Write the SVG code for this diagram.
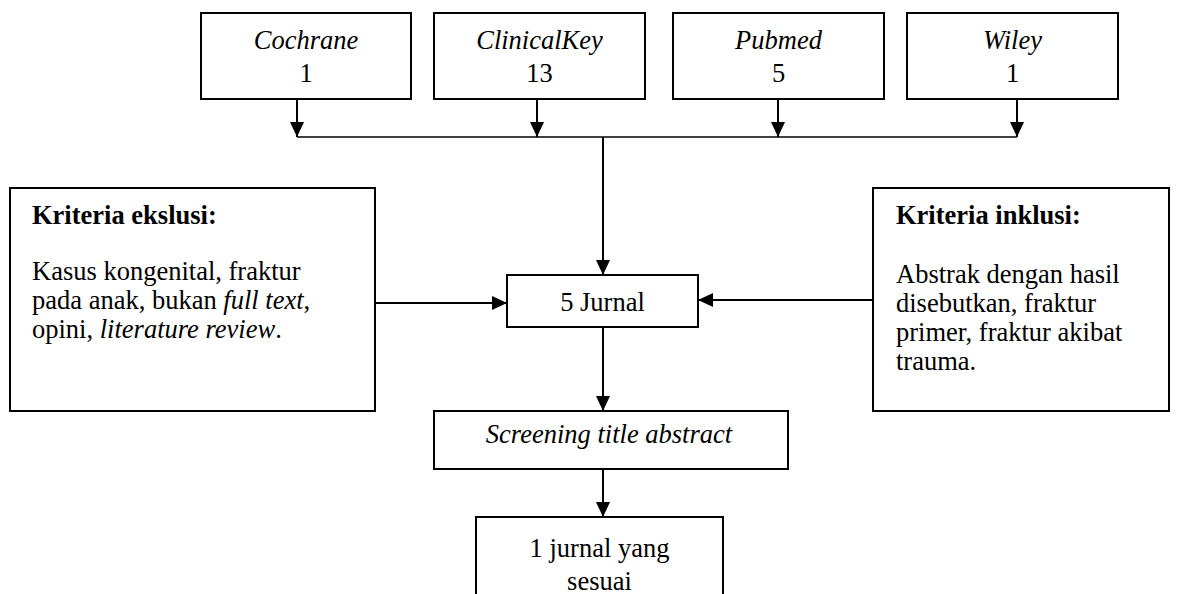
<svg xmlns="http://www.w3.org/2000/svg" width="1179" height="594" viewBox="0 0 1179 594">
<style>
.box{fill:#fff;stroke:#000;stroke-width:2}
.t{font-family:"Liberation Serif","Times New Roman",serif;font-size:26.5px;fill:#000}
.c{text-anchor:middle}
.i{font-style:italic}
.b{font-weight:bold}
.ln{stroke:#000;stroke-width:2;fill:none}
.thin{stroke:#000;stroke-width:1.5;fill:none}
</style>
<defs>
<marker id="ah" markerUnits="userSpaceOnUse" markerWidth="15" markerHeight="14" refX="15" refY="7" orient="auto">
<path d="M0,0 L15,7 L0,14 z" fill="#000"/>
</marker>
</defs>
<rect width="1179" height="594" fill="#fff"/>
<g id="connectors">
<line class="ln" x1="297" y1="99" x2="297" y2="137" marker-end="url(#ah)"/>
<line class="ln" x1="537" y1="99" x2="537" y2="137" marker-end="url(#ah)"/>
<line class="ln" x1="778" y1="99" x2="778" y2="137" marker-end="url(#ah)"/>
<line class="ln" x1="1017" y1="99" x2="1017" y2="137" marker-end="url(#ah)"/>
<line class="thin" x1="297" y1="137" x2="1017" y2="137"/>
<line class="ln" x1="603" y1="137" x2="603" y2="275" marker-end="url(#ah)"/>
<line class="ln" x1="375" y1="303" x2="507" y2="303" marker-end="url(#ah)"/>
<line class="ln" x1="873" y1="300" x2="698" y2="300" marker-end="url(#ah)"/>
<line class="ln" x1="603" y1="327" x2="603" y2="411" marker-end="url(#ah)"/>
<line class="ln" x1="603" y1="469" x2="603" y2="517" marker-end="url(#ah)"/>
</g>
<g id="cochrane">
<rect class="box" x="201" y="13" width="210" height="86"/>
<text class="t c i" x="306" y="49">Cochrane</text>
<text class="t c" x="306" y="82">1</text>
</g>
<g id="clinicalkey">
<rect class="box" x="434" y="13" width="211" height="86"/>
<text class="t c i" x="539.5" y="49">ClinicalKey</text>
<text class="t c" x="539.5" y="82">13</text>
</g>
<g id="pubmed">
<rect class="box" x="673" y="13" width="211" height="86"/>
<text class="t c i" x="778.5" y="49">Pubmed</text>
<text class="t c" x="778.5" y="82">5</text>
</g>
<g id="wiley">
<rect class="box" x="907" y="13" width="211" height="86"/>
<text class="t c i" x="1012.5" y="49">Wiley</text>
<text class="t c" x="1012.5" y="82">1</text>
</g>
<g id="eksklusi">
<rect class="box" x="10" y="188" width="365" height="223"/>
<text class="t b" x="32" y="224">Kriteria ekslusi:</text>
<text class="t" x="32" y="280">Kasus kongenital, fraktur</text>
<text class="t" x="32" y="309">pada anak, bukan <tspan class="i">full text</tspan>,</text>
<text class="t" x="32" y="338">opini, <tspan class="i">literature review</tspan>.</text>
</g>
<g id="inklusi">
<rect class="box" x="873" y="188" width="296" height="223"/>
<text class="t b" x="896" y="224">Kriteria inklusi:</text>
<text class="t" x="896" y="283">Abstrak dengan hasil</text>
<text class="t" x="896" y="312">disebutkan, fraktur</text>
<text class="t" x="896" y="341">primer, fraktur akibat</text>
<text class="t" x="896" y="370">trauma.</text>
</g>
<g id="jurnal5">
<rect class="box" x="507" y="275" width="191" height="52"/>
<text class="t c" x="602.5" y="311">5 Jurnal</text>
</g>
<g id="screening">
<rect class="box" x="434" y="411" width="354" height="58"/>
<text class="t c i" x="609" y="443">Screening title abstract</text>
</g>
<g id="final">
<rect class="box" x="476" y="517" width="247" height="90"/>
<text class="t c" x="599.5" y="557">1 jurnal yang</text>
<text class="t c" x="599.5" y="590">sesuai</text>
</g>
</svg>
